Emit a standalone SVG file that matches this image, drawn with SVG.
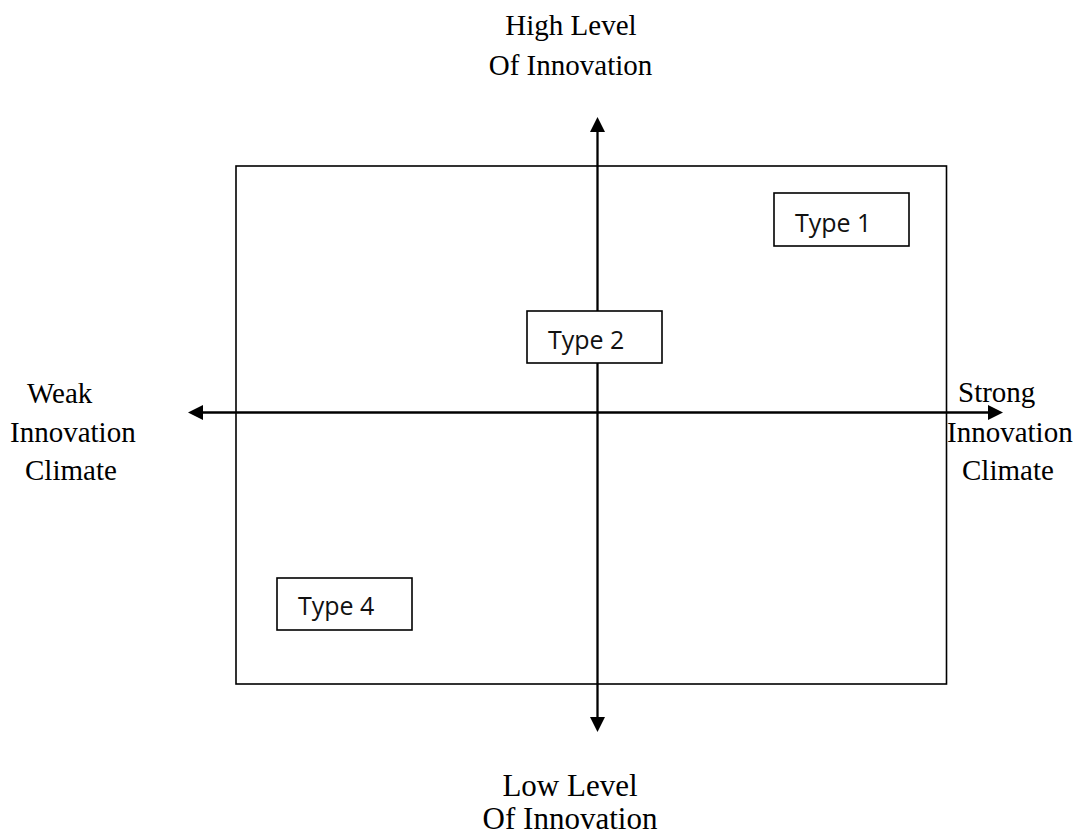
<svg xmlns="http://www.w3.org/2000/svg" width="1074" height="836" viewBox="0 0 1074 836">
<style>
.frame{fill:none;stroke:#000;stroke-width:1.6}
.axis{stroke:#000;stroke-width:2.3;fill:none}
.box{fill:#fff;stroke:#000;stroke-width:1.6}
.type{font-family:"Open Sans","Liberation Sans",sans-serif;font-size:25px;fill:#111}
.lbl{font-family:"Liberation Serif","Times New Roman",serif;font-size:29px;fill:#000}
.lbl2{font-family:"Liberation Serif","Times New Roman",serif;font-size:31px;fill:#000}
</style>
<defs>
<marker id="arr" markerUnits="userSpaceOnUse" markerWidth="16" markerHeight="16" refX="0" refY="7.5" orient="auto-start-reverse">
<path d="M0,0 L15,7.5 L0,15 Z" fill="#000"/>
</marker>
</defs>
<rect id="frame" class="frame" x="236" y="166" width="710.5" height="518"/>
<g id="connectors">
<line class="axis" x1="597.5" y1="132" x2="597.5" y2="717" marker-start="url(#arr)" marker-end="url(#arr)"/>
<line class="axis" x1="203" y1="412.5" x2="988" y2="412.5" marker-start="url(#arr)" marker-end="url(#arr)"/>
</g>
<g id="type1">
<rect class="box" x="774" y="193" width="135" height="53"/>
<text class="type" x="795" y="232">Type 1</text>
</g>
<g id="type2">
<rect class="box" x="527" y="311" width="135" height="52"/>
<text class="type" x="548" y="349">Type 2</text>
</g>
<g id="type4">
<rect class="box" x="277" y="578" width="135" height="52"/>
<text class="type" x="298" y="615">Type 4</text>
</g>
<g id="label-top">
<text class="lbl" x="571" y="35" text-anchor="middle">High Level</text>
<text class="lbl" x="570.5" y="75" text-anchor="middle">Of Innovation</text>
</g>
<g id="label-bottom">
<text class="lbl2" x="570" y="796" text-anchor="middle">Low Level</text>
<text class="lbl2" x="570" y="828.5" text-anchor="middle">Of Innovation</text>
</g>
<g id="label-left">
<text class="lbl" x="27" y="403">Weak</text>
<text class="lbl" x="10" y="442">Innovation</text>
<text class="lbl" x="25" y="480">Climate</text>
</g>
<g id="label-right">
<text class="lbl" x="958" y="402">Strong</text>
<text class="lbl" x="947" y="442">Innovation</text>
<text class="lbl" x="962" y="480">Climate</text>
</g>
</svg>
